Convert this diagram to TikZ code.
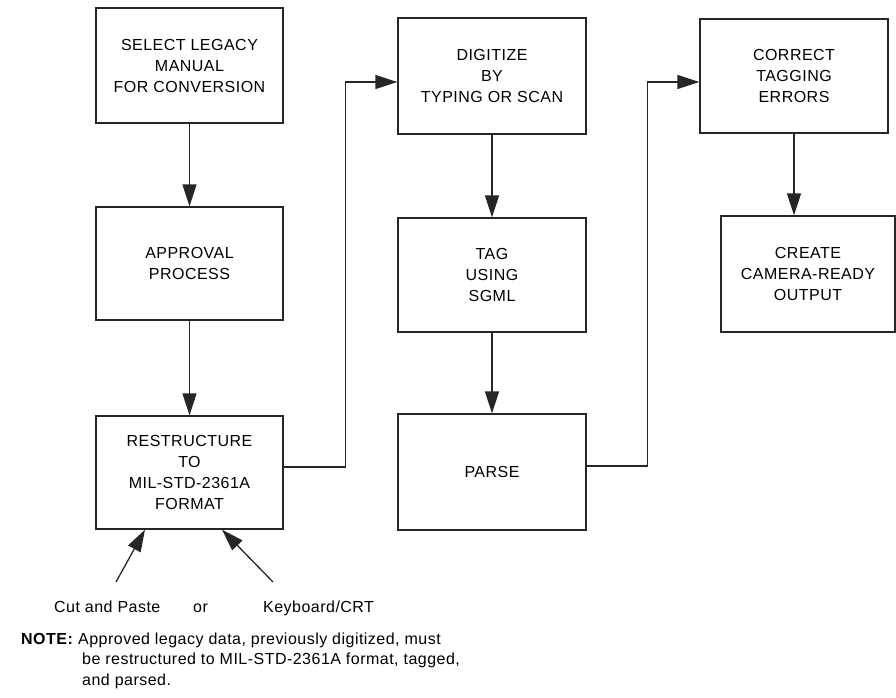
\documentclass[tikz,border=0pt]{standalone}
\usepackage{fontspec}
\setmainfont{Liberation Sans}[LetterSpace=3]
\usetikzlibrary{arrows.meta,positioning}

\begin{document}
\begin{tikzpicture}[x=1pt, y=-1pt,
    box/.style={draw=black!85, line width=1.3pt, align=center, inner sep=0pt,
        minimum width=187pt, minimum height=115pt,
        font=\fontsize{16}{21}\selectfont},
    flow/.style={draw=black!85, line width=1.3pt, -{Triangle[length=22pt, width=14pt]}},
    label/.style={anchor=base west, inner sep=0pt, font=\fontsize{16}{20.5}\selectfont}]
    \useasboundingbox (0,0) rectangle (896,698);

    % first column
    \node[box] (select) at (189.5,65.5) {SELECT LEGACY\\MANUAL\\FOR CONVERSION};
    \node[box, minimum height=113pt] (approval) at (189.5,263.5) {APPROVAL\\PROCESS};
    \node[box, minimum height=113pt] (restructure) at (189.5,472.5) {RESTRUCTURE\\TO\\MIL-STD-2361A\\FORMAT};

    % second column
    \node[box, minimum width=188pt, minimum height=116pt] (digitize) at (492,76) {DIGITIZE\\BY\\TYPING OR SCAN};
    \node[box, minimum width=188pt, minimum height=114pt] (tag) at (492,275) {TAG\\USING\\SGML};
    \node[box, minimum width=188pt, minimum height=116pt] (parse) at (492,472) {PARSE};

    % third column
    \node[box, minimum width=188pt, minimum height=114pt] (correct) at (794,76) {CORRECT\\TAGGING\\ERRORS};
    \node[box, minimum width=174pt, minimum height=116pt] (create) at (808,274) {CREATE\\CAMERA-READY\\OUTPUT};

    \draw[flow] (select) -- (approval);
    \draw[flow] (approval) -- (restructure);
    \draw[flow] ([yshift=5.5pt]restructure.east) -- ++(62,0) |- ([yshift=-6pt]digitize.west);
    \draw[flow] (digitize) -- (tag);
    \draw[flow] (tag) -- (parse);
    \draw[flow] ([yshift=6pt]parse.east) -- ++(61,0) |- ([yshift=-6pt]correct.west);
    \draw[flow] (correct.south) -- (correct.south |- create.north);

    % inputs to restructuring
    \coordinate (cut) at (116,582);
    \coordinate (kbd) at (273,582);
    \draw[flow] (cut) -- ([xshift=-44.5pt]restructure.south);
    \draw[flow] (kbd) -- ([xshift=32.5pt]restructure.south);
    \node[label] (cutlbl) at (54,612) {Cut and Paste};
    \node[label] (orlbl) at (193,612) {or};
    \node[label] (kbdlbl) at (263,612) {Keyboard/CRT};

    % note
    \node[label] (notehead) at (21,644) {\bfseries NOTE:};
    \node[label] (note1) at (78,644) {Approved legacy data, previously digitized, must};
    \node[label] (note2) at (82,664.5) {be restructured to MIL-STD-2361A\ format, tagged,};
    \node[label] (note3) at (82,685) {and parsed.};
\end{tikzpicture}
\end{document}
